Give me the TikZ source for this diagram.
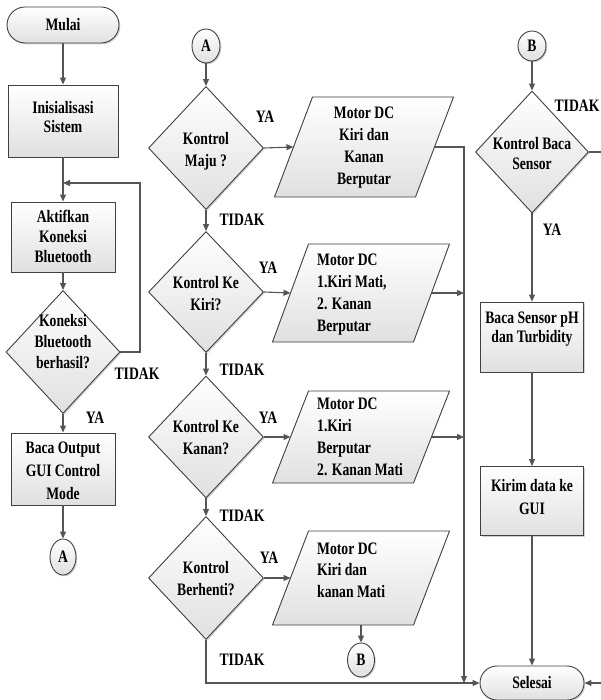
\documentclass[tikz,border=0pt]{standalone}
\usepackage{fontspec}
\setmainfont{Liberation Serif}[FakeStretch=0.78]
\usetikzlibrary{shapes.geometric,arrows.meta,calc,shadows}
\definecolor{edgec}{HTML}{555555}
\definecolor{bordc}{HTML}{404040}
\definecolor{fillb}{HTML}{E0E0E0}
\tikzset{
  base/.style={draw=bordc, line width=0.9pt, top color=white, bottom color=fillb, inner sep=0pt,
    drop shadow={shadow xshift=1.3pt, shadow yshift=-1.3pt, opacity=0.18, fill=black}},
  txt/.style={font=\bfseries\fontsize{17.5pt}{20pt}\selectfont, align=center, text=black, inner sep=0pt},
  boxn/.style={base, rectangle},
  termn/.style={base, rectangle, rounded corners=17pt, minimum width=104pt, minimum height=34pt},
  dian/.style={base, diamond, minimum width=115pt, minimum height=123pt},
  connn/.style={base, ellipse},
  lbl/.style={font=\bfseries\fontsize{17.5pt}{18pt}\selectfont, inner sep=0pt},
  ln/.style={draw=edgec, line width=1.1pt},
  arr/.style={ln, -{Triangle[length=7pt,width=6pt]}},
  ghost/.style={inner sep=0pt, outer sep=0pt}
}
\newcommand{\parashape}[3]{% center coordinate, half height, half slant
  \path[fill=black, opacity=0.18, shift={(1.3,1.3)}]
    ($(#1)+(-70.5-#3,#2)$) -- ($(#1)+(70.5-#3,#2)$) -- ($(#1)+(70.5+#3,-#2)$) -- ($(#1)+(-70.5+#3,-#2)$) -- cycle;
  \path[draw=bordc, line width=0.9pt, top color=white, bottom color=fillb]
    ($(#1)+(-70.5-#3,#2)$) -- ($(#1)+(70.5-#3,#2)$) -- ($(#1)+(70.5+#3,-#2)$) -- ($(#1)+(-70.5+#3,-#2)$) -- cycle;
}
\begin{document}
\begin{tikzpicture}[x=1pt,y=-1pt]
\useasboundingbox (0,0) rectangle (601,700);

% ---------- left column ----------
\node[termn, minimum width=112pt, minimum height=36pt, rounded corners=18pt] (mulai) at (63,25) {};
\node[txt] (tmulai) at (mulai) {Mulai};
\node[boxn, minimum width=110pt, minimum height=72pt] (init) at (63,121) {};
\node[txt, font=\bfseries\fontsize{17.5pt}{19pt}\selectfont] (tinit) at (63,117) {Inisialisasi\\Sistem};
\node[boxn, minimum width=104pt, minimum height=70pt] (akt) at (63,237) {};
\node[txt] (takt) at (63,236) {Aktifkan\\Koneksi\\Bluetooth};
\node[dian, minimum width=114pt, minimum height=123pt] (dkon) at (63,352) {};
\node[txt, font=\bfseries\fontsize{17.5pt}{21pt}\selectfont] (tdkon) at (63,342) {Koneksi\\Bluetooth\\berhasil?};
\node[boxn, minimum width=104pt, minimum height=72pt] (bo) at (63,469) {};
\node[txt, font=\bfseries\fontsize{17.5pt}{23pt}\selectfont] (tbo) at (63,471) {Baca Output\\GUI Control\\Mode};
\node[connn, minimum width=26pt, minimum height=36pt] (a1) at (63,557) {};
\node[txt] (ta1) at (a1) {A};

% ---------- middle column ----------
\node[connn, minimum width=28pt, minimum height=34pt] (a2) at (206,46) {};
\node[txt] (ta2) at (a2) {A};
\node[dian] (d1) at (206,148) {};
\node[txt, font=\bfseries\fontsize{17.5pt}{22pt}\selectfont] (td1) at (206,151) {Kontrol\\Maju ?};
\node[dian, minimum height=121pt] (d2) at (206,292) {};
\node[txt, font=\bfseries\fontsize{17.5pt}{22pt}\selectfont] (td2) at (206,294) {Kontrol Ke\\Kiri?};
\node[dian, minimum height=122pt] (d3) at (206,437) {};
\node[txt, font=\bfseries\fontsize{17.5pt}{22pt}\selectfont] (td3) at (206,438) {Kontrol Ke\\Kanan?};
\node[dian] (d4) at (206,578) {};
\node[txt, font=\bfseries\fontsize{17.5pt}{22pt}\selectfont] (td4) at (206,579) {Kontrol\\Berhenti?};

% parallelograms
\coordinate (c1) at (364,147);
\parashape{c1}{50}{19}
\node[ghost, minimum width=141pt, minimum height=100pt] (p1) at (c1) {};
\node[txt, font=\bfseries\fontsize{17.5pt}{22pt}\selectfont] (tp1) at (364,148) {Motor DC\\Kiri dan\\Kanan\\Berputar};

\coordinate (c2) at (361,293);
\parashape{c2}{49}{18}
\node[ghost, minimum width=141pt, minimum height=98pt] (p2) at (c2) {};
\node[txt, align=left, anchor=west, font=\bfseries\fontsize{17.5pt}{22pt}\selectfont] (tp2) at (317,295) {Motor DC\\1.Kiri Mati,\\2. Kanan\\Berputar};

\coordinate (c3) at (361,437);
\parashape{c3}{46}{18}
\node[ghost, minimum width=141pt, minimum height=92pt] (p3) at (c3) {};
\node[txt, align=left, anchor=west, font=\bfseries\fontsize{17.5pt}{22pt}\selectfont] (tp3) at (317,437) {Motor DC\\1.Kiri\\Berputar\\2. Kanan Mati};

\coordinate (c4) at (361,578);
\parashape{c4}{47}{18}
\node[ghost, minimum width=141pt, minimum height=94pt] (p4) at (c4) {};
\node[txt, align=left, anchor=west, font=\bfseries\fontsize{17.5pt}{21.5pt}\selectfont] (tp4) at (317,570) {Motor DC\\Kiri dan\\kanan Mati};

\node[connn, minimum width=27pt, minimum height=34pt] (b1) at (361,660) {};
\node[txt] (tb1) at (b1) {B};

% ---------- right column ----------
\node[connn, minimum width=28pt, minimum height=30pt] (b2) at (532,46) {};
\node[txt] (tb2) at (b2) {B};
\node[dian, minimum width=113pt, minimum height=122pt] (dr) at (532,152) {};
\node[txt, font=\bfseries\fontsize{17.5pt}{20pt}\selectfont] (tdr) at (532,154) {Kontrol Baca\\Sensor};
\node[boxn, minimum width=103pt, minimum height=70pt] (bs) at (532,337) {};
\node[txt, font=\bfseries\fontsize{17.5pt}{19pt}\selectfont] (tbs) at (532,329) {Baca Sensor pH\\dan Turbidity};
\node[boxn, minimum width=103pt, minimum height=69pt] (kd) at (532,501) {};
\node[txt, font=\bfseries\fontsize{17.5pt}{23pt}\selectfont] (tkd) at (532,497) {Kirim data ke\\GUI};
\node[termn] (sel) at (532,683) {};
\node[txt] (tsel) at (sel) {Selesai};

% ---------- helper coordinates ----------
\coordinate (loopin) at (63,183);
\coordinate (loopc1) at (140,352);
\coordinate (loopc2) at (140,183);
\coordinate (busend) at (464,683);
\coordinate (edgeR1) at (601,152);
\coordinate (edgeR2) at (601,683);

% ---------- connectors ----------
\draw[arr] (mulai) -- (init);
\draw[arr] (init) -- (akt);
\draw[arr] (dkon.east) -- (loopc1) -- (loopc2) -- (loopin);
\draw[arr] (akt) -- (dkon.north);
\draw[arr] (dkon.south) -- (bo);
\draw[arr] (bo) -- (a1);

\draw[arr] (a2) -- (d1.north);
\draw[arr] (d1.south) -- (d2.north);
\draw[arr] (d2.south) -- (d3.north);
\draw[arr] (d3.south) -- (d4.north);
\draw[arr] (d1.east) -- (p1.west);
\draw[arr] (d2.east) -- (p2.west);
\draw[arr] (d3.east) -- (p3.west);
\draw[arr] (d4.east) -- (p4.west);
\draw[arr] (p1.east) -- (p1.east -| busend) -- (busend);
\draw[arr] (p2.east) -- (p2.east -| busend);
\draw[arr] (p3.east) -- (p3.east -| busend);
\draw[arr] (p4.south) -- (b1);
\draw[arr] (d4.south) -- (d4.south |- sel.west) -- (sel.west);

\draw[arr] (b2) -- (dr.north);
\draw[arr] (dr.south) -- (bs);
\draw[arr] (bs) -- (kd);
\draw[arr] (kd) -- (sel);
\draw[ln] (dr.east) -- (edgeR1);
\draw[arr] (edgeR2) -- (sel.east);

% ---------- labels ----------
\node[lbl] (l1) at (137,374) {TIDAK};
\node[lbl] (l2) at (95,418) {YA};
\node[lbl] (l3) at (265,117) {YA};
\node[lbl] (l4) at (242,220) {TIDAK};
\node[lbl] (l5) at (268,268) {YA};
\node[lbl] (l6) at (242,370) {TIDAK};
\node[lbl] (l7) at (268,418) {YA};
\node[lbl] (l8) at (242,516) {TIDAK};
\node[lbl] (l9) at (269,558) {YA};
\node[lbl] (l10) at (242,660) {TIDAK};
\node[lbl] (l11) at (577,106) {TIDAK};
\node[lbl] (l12) at (552,230) {YA};
\end{tikzpicture}
\end{document}
